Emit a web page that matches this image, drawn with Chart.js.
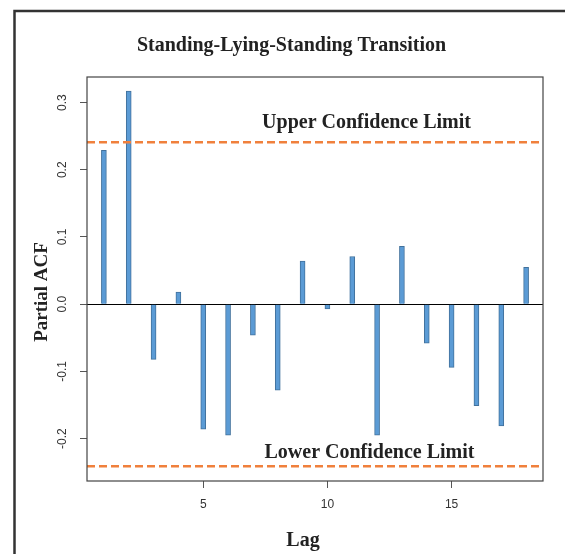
<!DOCTYPE html>
<html>
<head>
<meta charset="utf-8">
<script src="https://cdn.jsdelivr.net/npm/chart.js@4.4.0/dist/chart.umd.min.js"></script>
<style>
  html, body { margin: 0; padding: 0; background: #ffffff; }
  #wrap { width: 565px; height: 554px; position: relative; }
</style>
</head>
<body>
<div id="wrap"><canvas id="c" width="565" height="554"></canvas></div>
<script>
// ---- data ----
const lags = [1, 2, 3, 4, 5, 6, 7, 8, 9, 10, 11, 12, 13, 14, 15, 16, 17, 18];
const pacf = [0.229, 0.317, -0.082, 0.018, -0.186, -0.195, -0.046, -0.128, 0.064, -0.007,
              0.071, -0.195, 0.086, -0.058, -0.094, -0.151, -0.181, 0.055];
const upperLimit = 0.241;
const lowerLimit = -0.241;
const xTicks = [5, 10, 15];
const yTicks = [-0.2, -0.1, 0.0, 0.1, 0.2, 0.3];
const yTickLabels = ['-0.2', '-0.1', '0.0', '0.1', '0.2', '0.3'];
const xRange = [0.32, 18.68];
const yRange = [-0.263, 0.338];
const titleText = 'Standing-Lying-Standing Transition';
const xTitle = 'Lag';
const yTitle = 'Partial ACF';
const upperText = 'Upper Confidence Limit';
const lowerText = 'Lower Confidence Limit';

const serif = '"Liberation Serif", "Times New Roman", serif';
const sans = '"Liberation Sans", Arial, sans-serif';

const decor = {
  id: 'decor',
  beforeDatasetsDraw(chart) {
    const { ctx, chartArea: a, scales: { y } } = chart;
    ctx.save();
    const y0 = Math.round(y.getPixelForValue(0)) + 0.5;
    ctx.strokeStyle = '#000';
    ctx.lineWidth = 1;
    ctx.beginPath();
    ctx.moveTo(a.left, y0);
    ctx.lineTo(a.right, y0);
    ctx.stroke();
    ctx.restore();
  },
  afterDraw(chart) {
    const { ctx, chartArea: a, scales: { x, y } } = chart;
    ctx.save();
    // outer frame
    ctx.strokeStyle = '#333';
    ctx.lineWidth = 2.5;
    ctx.beginPath();
    ctx.moveTo(14.5, 554);
    ctx.lineTo(14.5, 11);
    ctx.lineTo(565, 11);
    ctx.stroke();
    // plot box
    ctx.strokeStyle = '#444';
    ctx.lineWidth = 1.2;
    ctx.strokeRect(a.left, a.top, a.right - a.left, a.bottom - a.top);

    // title
    ctx.fillStyle = '#222';
    ctx.textAlign = 'center';
    ctx.textBaseline = 'alphabetic';
    ctx.font = 'bold 20px ' + serif;
    ctx.fillText(titleText, 291.5, 51);

    // annotation texts
    ctx.font = 'bold 20px ' + serif;
    ctx.fillText(upperText, 366.5, y.getPixelForValue(upperLimit) - 14);
    ctx.fillText(lowerText, 369.5, y.getPixelForValue(lowerLimit) - 8);

    // x title
    ctx.font = 'bold 20px ' + serif;
    ctx.fillText(xTitle, (a.left + a.right) / 2 - 12, 546);

    // y title (rotated)
    ctx.font = 'bold 19px ' + serif;
    ctx.save();
    ctx.translate(42, 292);
    ctx.rotate(-Math.PI / 2);
    ctx.textBaseline = 'middle';
    ctx.fillText(yTitle, 0, 0);
    ctx.restore();

    // y tick labels (rotated, R style)
    ctx.font = '12px ' + sans;
    ctx.fillStyle = '#333';
    yTicks.forEach((v, i) => {
      const py = y.getPixelForValue(v);
      ctx.save();
      ctx.translate(63, py);
      ctx.rotate(-Math.PI / 2);
      ctx.textAlign = 'center';
      ctx.textBaseline = 'middle';
      ctx.fillText(yTickLabels[i], 0, 0);
      ctx.restore();
    });
    ctx.restore();
  }
};

new Chart(document.getElementById('c'), {
  type: 'bar',
  data: {
    datasets: [
      {
        type: 'bar',
        label: 'PACF',
        data: lags.map((l, i) => ({ x: l, y: pacf[i] })),
        backgroundColor: '#5B9BD5',
        borderColor: '#41719C',
        borderWidth: 1,
        barThickness: 5,
        order: 2
      },
      {
        type: 'line',
        label: 'Upper',
        data: [{ x: xRange[0], y: upperLimit }, { x: xRange[1], y: upperLimit }],
        borderColor: '#F0803C',
        borderWidth: 2.6,
        borderDash: [8, 4],
        pointRadius: 0,
        fill: false,
        order: 1
      },
      {
        type: 'line',
        label: 'Lower',
        data: [{ x: xRange[0], y: lowerLimit }, { x: xRange[1], y: lowerLimit }],
        borderColor: '#F0803C',
        borderWidth: 2.6,
        borderDash: [8, 4],
        pointRadius: 0,
        fill: false,
        order: 1
      }
    ]
  },
  options: {
    responsive: false,
    animation: false,
    layout: { padding: { top: 77, right: 22, left: 0, bottom: 0 } },
    plugins: { legend: { display: false }, tooltip: { enabled: false }, title: { display: false } },
    scales: {
      x: {
        type: 'linear',
        min: xRange[0],
        max: xRange[1],
        offset: false,
        afterBuildTicks: s => { s.ticks = xTicks.map(v => ({ value: v })); },
        afterFit: s => { s.height = 73; },
        grid: { offset: false, drawOnChartArea: false, drawTicks: true, tickLength: 7, color: '#555', lineWidth: 1 },
        border: { display: false },
        ticks: {
          autoSkip: false,
          maxRotation: 0,
          padding: 9,
          color: '#333',
          font: { family: sans, size: 12 },
          callback: v => String(v)
        }
      },
      y: {
        type: 'linear',
        min: yRange[0],
        max: yRange[1],
        afterBuildTicks: s => { s.ticks = yTicks.map(v => ({ value: v })); },
        afterFit: s => { s.width = 87; },
        grid: { offset: false, drawOnChartArea: false, drawTicks: true, tickLength: 7, color: '#555', lineWidth: 1 },
        border: { display: false },
        ticks: {
          autoSkip: false,
          color: 'rgba(0,0,0,0)',
          font: { family: sans, size: 12 },
          callback: () => ''
        }
      }
    }
  },
  plugins: [decor]
});
</script>
</body>
</html>
